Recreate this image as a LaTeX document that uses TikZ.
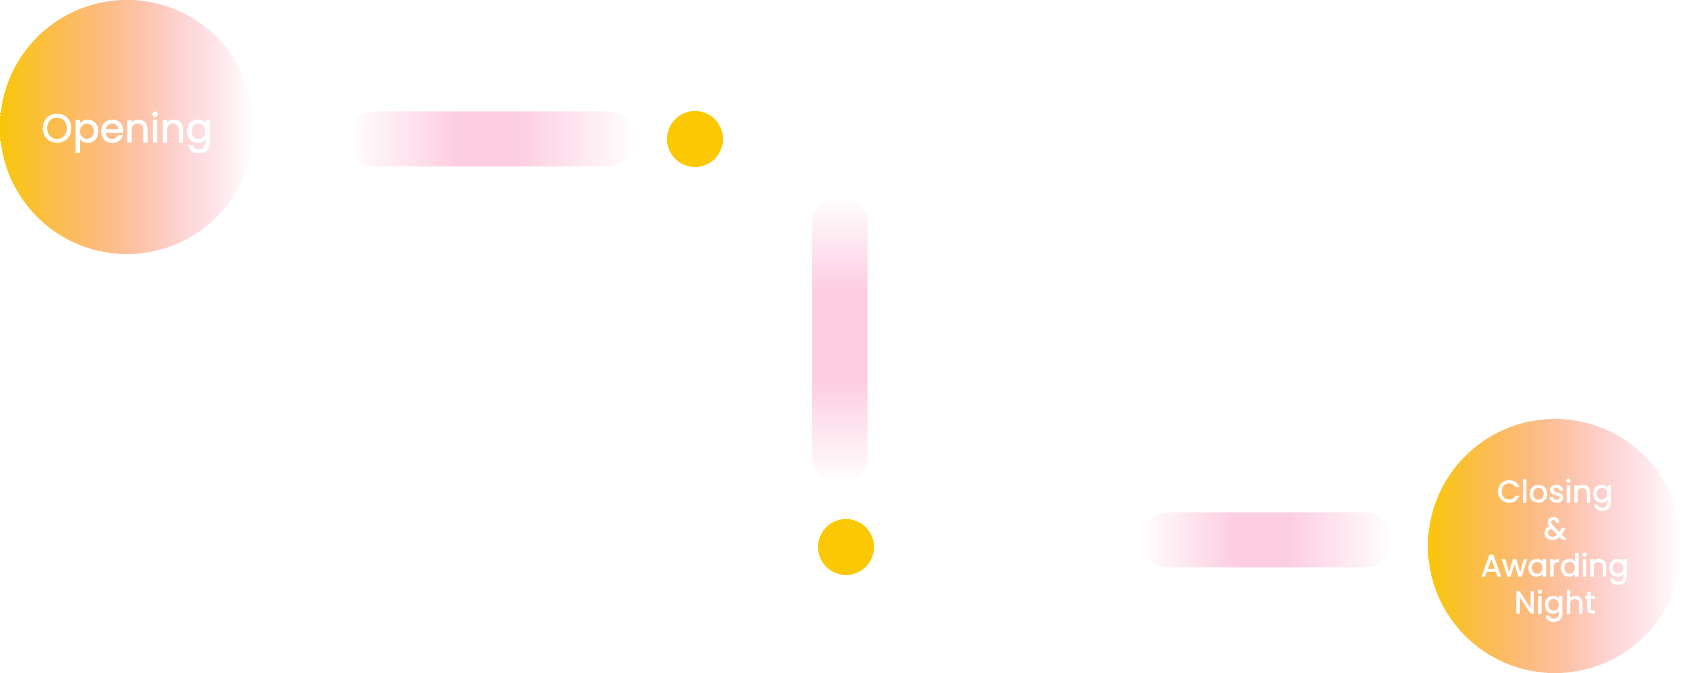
\documentclass[tikz,border=0pt]{standalone}
\usepackage{fontspec}
\setmainfont{Poppins}[FakeBold=1.5]
\definecolor{dotyellow}{HTML}{FBC803}
\definecolor{stageyellow}{HTML}{F9C60A}
\definecolor{barpink}{HTML}{FDCDE0}
\pgfdeclarehorizontalshading{stagefade}{100bp}{
  color(0bp)=(stageyellow); color(25bp)=(stageyellow);
  color(35bp)=(rgb,255:red,251;green,189;blue,72);
  color(45bp)=(rgb,255:red,252;green,187;blue,128);
  color(52.5bp)=(rgb,255:red,253;green,195;blue,168);
  color(60bp)=(rgb,255:red,253;green,210;blue,208);
  color(67.5bp)=(rgb,255:red,254;green,229;blue,234);
  color(75bp)=(white); color(100bp)=(white)}
\pgfdeclarehorizontalshading{hbarfade}{100bp}{
  color(0bp)=(white); color(25bp)=(white);
  color(44bp)=(barpink); color(54bp)=(barpink);
  color(75bp)=(white); color(100bp)=(white)}
\pgfdeclareverticalshading{vbarfade}{100bp}{
  color(0bp)=(white); color(25bp)=(white);
  color(43bp)=(barpink); color(58bp)=(barpink);
  color(75bp)=(white); color(100bp)=(white)}
\tikzset{
  stage/.style={circle, minimum size=127pt, inner sep=0pt, text depth=0pt,
    shading=stagefade, text=white, align=center},
  hbar/.style={rectangle, rounded corners=13.75pt, minimum height=27.5pt,
    inner sep=0pt, shading=hbarfade},
  vbar/.style={rectangle, rounded corners=13.75pt, minimum width=27.5pt,
    inner sep=0pt, shading=vbarfade},
  milestone/.style={circle, fill=dotyellow, minimum size=28pt, inner sep=0pt},
}

\begin{document}
\begin{tikzpicture}[x=0.5pt,y=-0.5pt]
\useasboundingbox (0,0) rectangle (1682,673);
% stages
\node[stage, font=\fontsize{20}{24}\selectfont] (opening) at (127,127) {Opening};
\node[stage, font=\fontsize{15.5}{18.5}\selectfont] (closing) at (1555,546)
  {Closing\\\&\\Awarding\\Night};
% bars
\node[hbar, minimum width=145pt] (bar1) at (492,139) {};
\node[vbar, minimum height=144.5pt] (bar2) at (840,339) {};
\node[hbar, minimum width=126.5pt] (bar3) at (1266,540) {};
% dots
\node[milestone] (dot1) at (695,139) {};
\node[milestone] (dot2) at (846,547) {};
\end{tikzpicture}
\end{document}
